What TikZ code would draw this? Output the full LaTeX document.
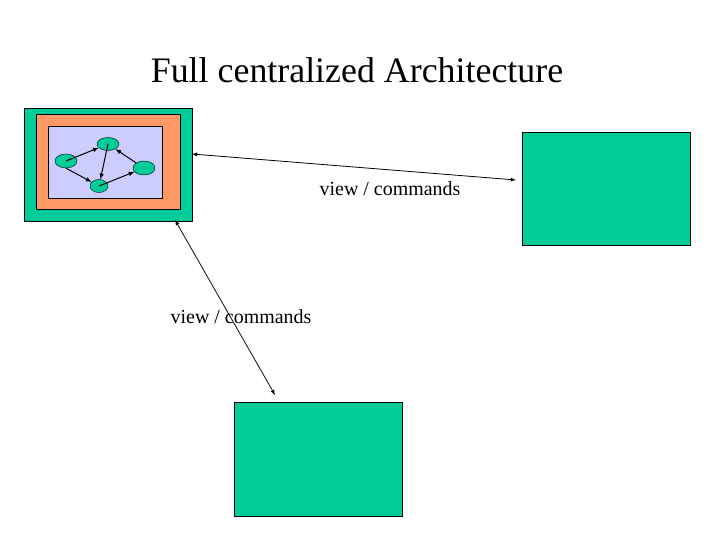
\documentclass[tikz,border=0pt]{standalone}
\usepackage{fontspec}
\usetikzlibrary{shapes.geometric}
\setmainfont{Liberation Serif}
\definecolor{tealg}{RGB}{0,204,153}
\definecolor{orng}{RGB}{255,153,102}
\definecolor{lav}{RGB}{204,204,255}
\begin{document}
\begin{tikzpicture}[x=1bp,y=-1bp,
  box/.style={draw=black,fill=tealg,line width=0.6pt},
  nd/.style={ellipse,draw=black,fill=tealg,inner sep=0pt},
  sa/.style={-latex,line width=1pt},
  ba/.style={latex-latex,line width=0.8pt},
  lbl/.style={font=\fontsize{20}{24}\selectfont}]
\useasboundingbox (0,0) rectangle (720,540);
\node[font=\fontsize{36}{40}\selectfont] (title) at (357,70) {Full centralized Architecture};
\path[box] (24,108) rectangle (192,221);
\path[draw=black,fill=orng] (36,114) rectangle (180,209);
\path[draw=black,fill=lav] (48,126) rectangle (162,198);
\coordinate (m1) at (192,154);
\coordinate (m2) at (175,220);
\node[nd,minimum width=22bp,minimum height=13bp] (t) at (108,144) {};
\node[nd,minimum width=22bp,minimum height=14bp] (l) at (66,161) {};
\node[nd,minimum width=22bp,minimum height=14bp] (r) at (144,168) {};
\node[nd,minimum width=18bp,minimum height=13bp] (b) at (99,186) {};
\draw[sa] (l.center) -- (t);
\draw[sa] (l.south) -- (b);
\draw[sa] (t.center) -- (b);
\draw[sa] (b.center) -- (r);
\draw[sa] (r.north west) -- (t);
\node[box,minimum width=168bp,minimum height=113bp,inner sep=0pt] (rb) at (606,188.5) {};
\node[box,minimum width=168bp,minimum height=114bp,inner sep=0pt] (bb) at (318,459) {};
\coordinate (e1) at (516,180);
\coordinate (e2) at (275,395);
\draw[ba] (m1) -- (e1);
\draw[ba] (m2) -- (e2);
\node[lbl] (l1) at (390,189) {view / commands};
\node[lbl] (l2) at (241,317) {view / commands};
\end{tikzpicture}
\end{document}
